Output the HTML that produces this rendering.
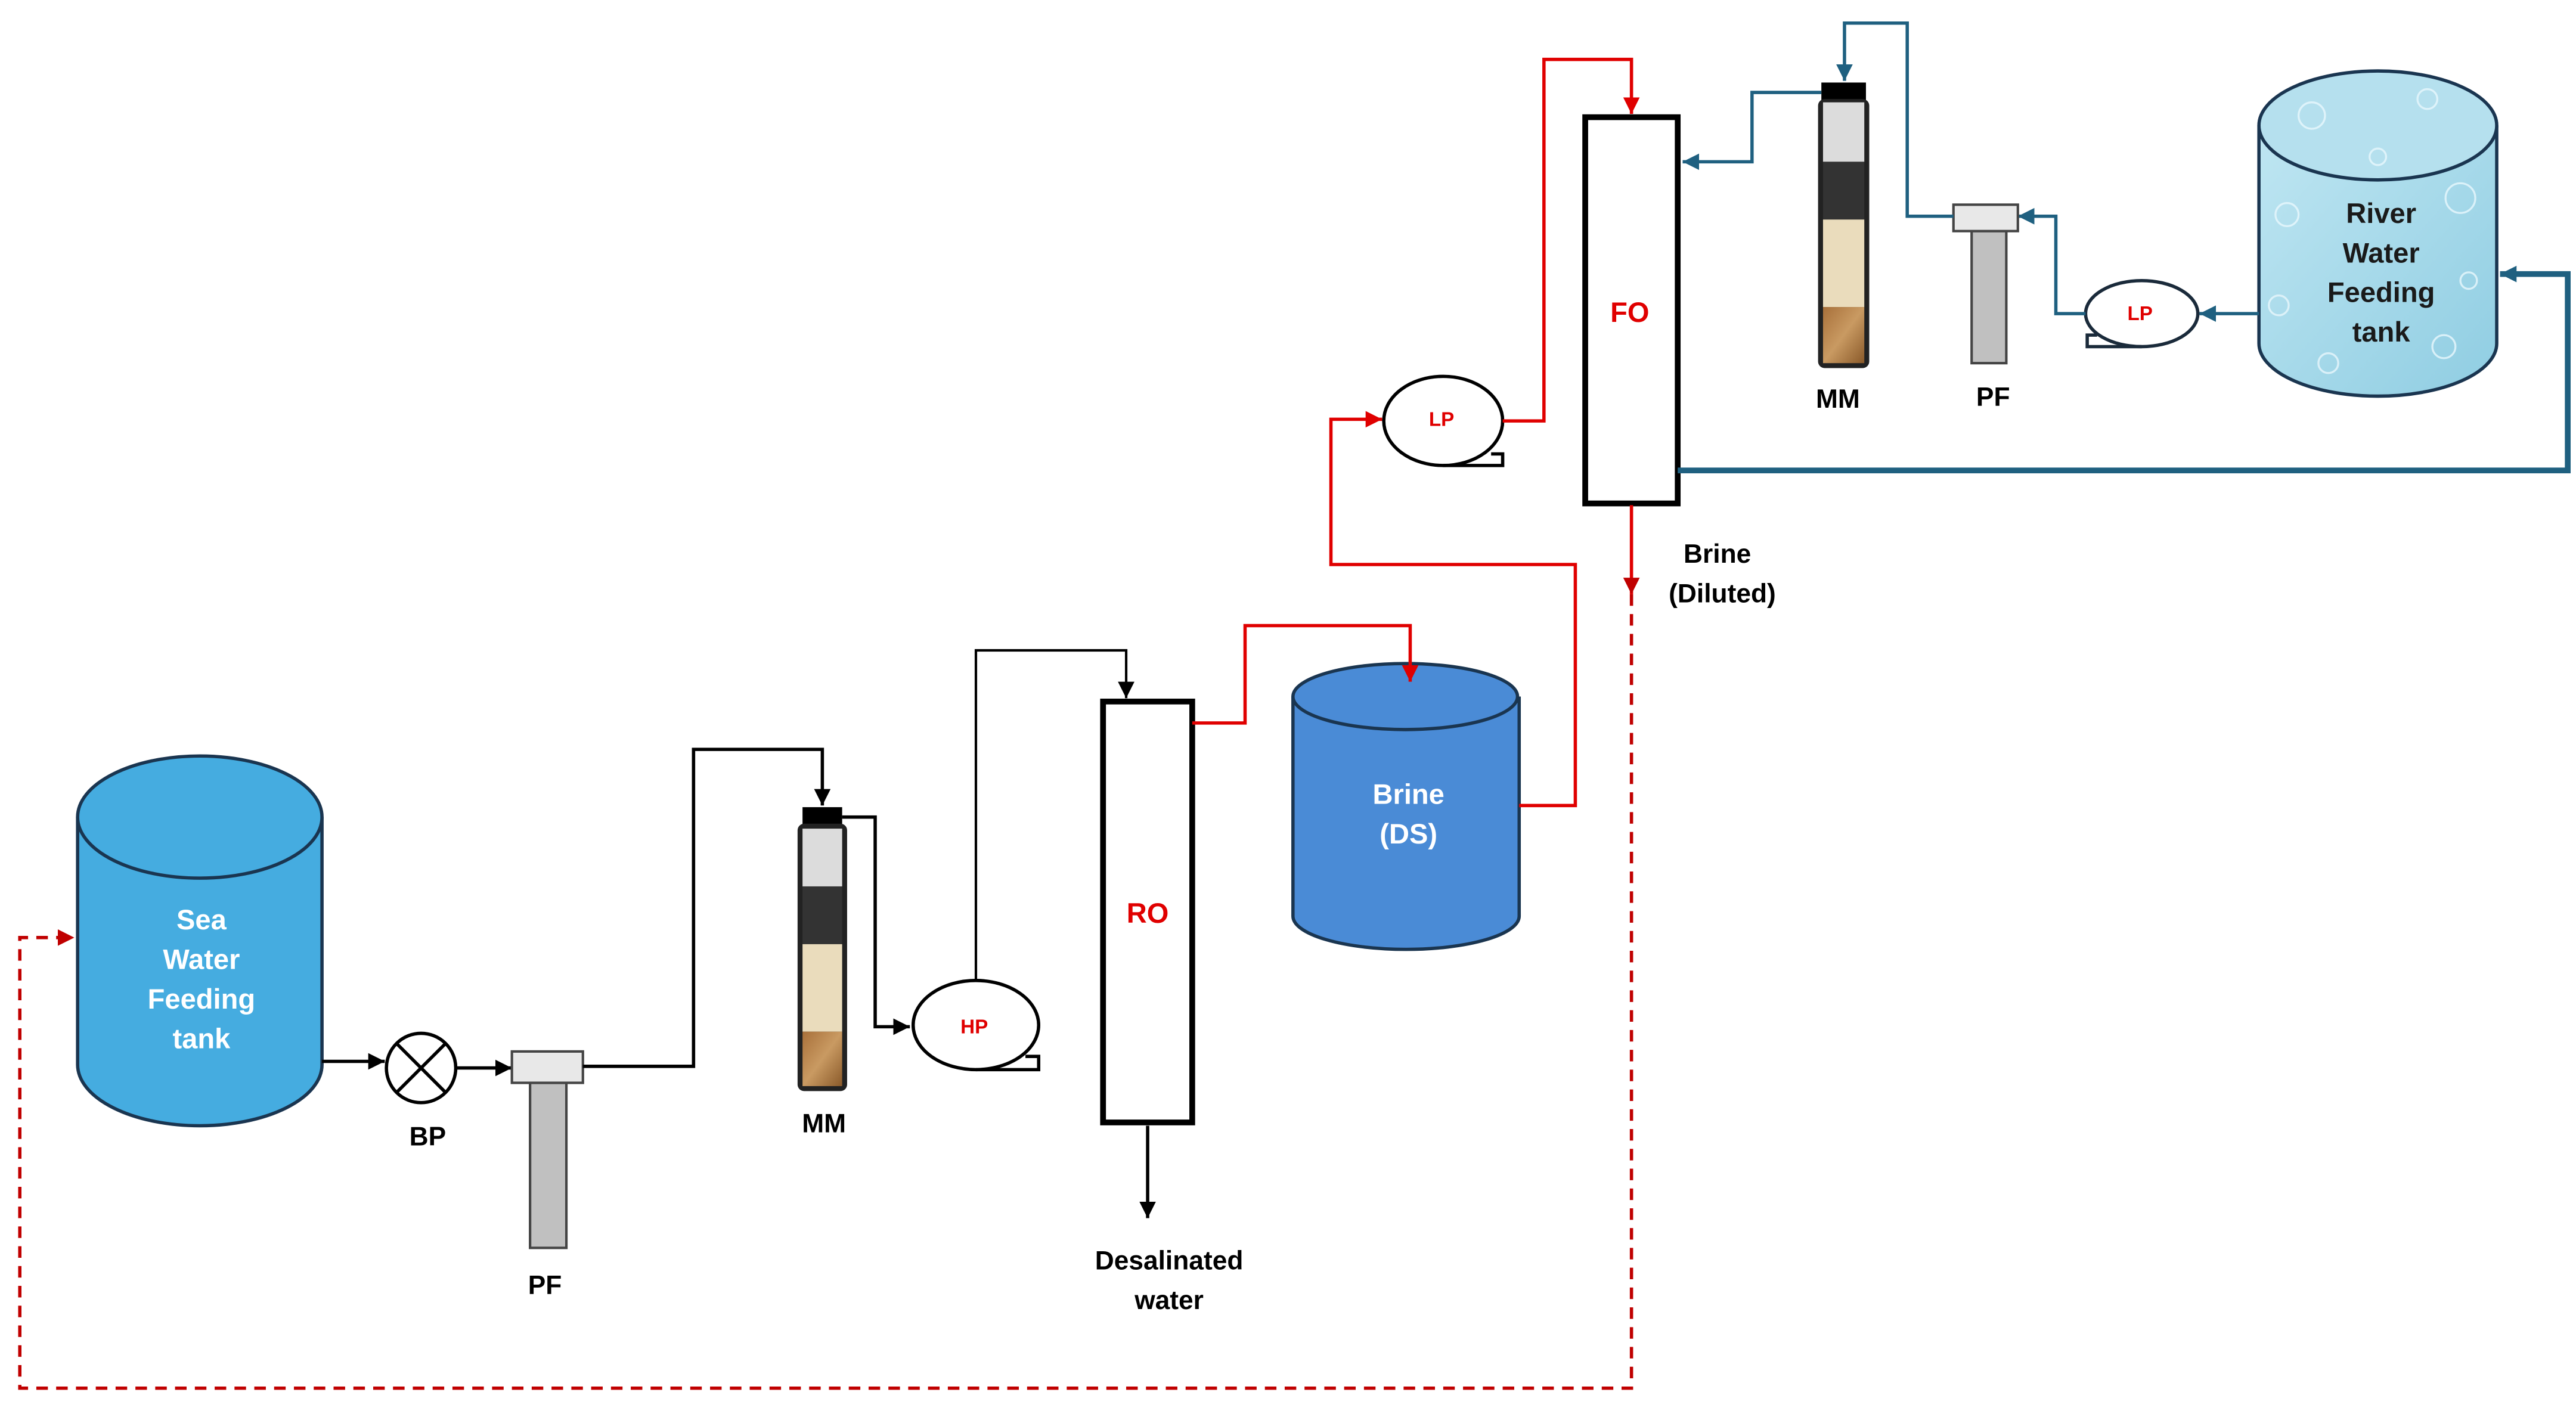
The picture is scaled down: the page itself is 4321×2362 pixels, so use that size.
<!DOCTYPE html>
<html><head><meta charset="utf-8"><style>
html,body{margin:0;padding:0;background:#fff;}
svg{display:block;}
text{font-family:"Liberation Sans",sans-serif;font-weight:bold;text-anchor:middle;}
</style></head><body>
<svg width="4321" height="2362" viewBox="0 0 1560 853" preserveAspectRatio="none" xmlns="http://www.w3.org/2000/svg">
<defs>
<marker id="ak" markerUnits="userSpaceOnUse" markerWidth="12" markerHeight="12" refX="10" refY="5" orient="auto"><path d="M0,0 L10,5 L0,10 z" fill="#000"/></marker>
<marker id="ar" markerUnits="userSpaceOnUse" markerWidth="12" markerHeight="12" refX="10" refY="5" orient="auto"><path d="M0,0 L10,5 L0,10 z" fill="#e00000"/></marker>
<marker id="adr" markerUnits="userSpaceOnUse" markerWidth="12" markerHeight="12" refX="10" refY="5" orient="auto"><path d="M0,0 L10,5 L0,10 z" fill="#c00000"/></marker>
<marker id="ab" markerUnits="userSpaceOnUse" markerWidth="12" markerHeight="12" refX="10" refY="5" orient="auto"><path d="M0,0 L10,5 L0,10 z" fill="#1f6080"/></marker>
<linearGradient id="riv" x1="0" y1="0" x2="1" y2="1"><stop offset="0" stop-color="#bfe6f2"/><stop offset="1" stop-color="#8fcde2"/></linearGradient>
<linearGradient id="sand" x1="0" y1="0" x2="1" y2="1"><stop offset="0" stop-color="#a8703a"/><stop offset="0.5" stop-color="#c99a62"/><stop offset="1" stop-color="#8a5a2a"/></linearGradient>
</defs>

<polyline points="988,360 988,841 12,841 12,568 45,568" fill="none" stroke="#c00000" stroke-width="2" stroke-dasharray="7,5" marker-end="url(#adr)"/>

<path d="M47,495 L47,645 A74,37 0 0 0 195,645 L195,495" fill="#45ace0" stroke="#1a3550" stroke-width="2"/>
<ellipse cx="121" cy="495" rx="74" ry="37" fill="#45ace0" stroke="#1a3550" stroke-width="2"/>
<g fill="#fff" font-size="17"><text x="122" y="563">Sea</text><text x="122" y="587">Water</text><text x="122" y="611">Feeding</text><text x="122" y="635">tank</text></g>

<line x1="195" y1="643" x2="233" y2="643" stroke="#000" stroke-width="2" marker-end="url(#ak)"/>
<circle cx="255" cy="647" r="21" fill="#fff" stroke="#000" stroke-width="2"/>
<line x1="240" y1="632" x2="270" y2="662" stroke="#000" stroke-width="2"/><line x1="270" y1="632" x2="240" y2="662" stroke="#000" stroke-width="2"/>
<text x="259" y="694" font-size="16">BP</text>
<line x1="276" y1="647" x2="310" y2="647" stroke="#000" stroke-width="2" marker-end="url(#ak)"/>

<rect x="321" y="656" width="22" height="100" fill="#c0c0c0" stroke="#444" stroke-width="1.5"/>
<rect x="310" y="637" width="43" height="19" fill="#e8e8e8" stroke="#444" stroke-width="1.5"/>
<text x="330" y="784" font-size="16">PF</text>
<polyline points="353,646 420,646 420,454 498,454 498,488" fill="none" stroke="#000" stroke-width="2" marker-end="url(#ak)"/>

<rect x="486" y="489" width="24" height="11" fill="#000"/>
<rect x="483" y="499" width="30" height="162" rx="4" fill="#222"/>
<rect x="486" y="502" width="24" height="35" fill="#dcdcdc"/>
<rect x="486" y="537" width="24" height="35" fill="#333"/>
<rect x="486" y="572" width="24" height="53" fill="#eadcbc"/>
<rect x="486" y="625" width="24" height="33" fill="url(#sand)"/>
<text x="499" y="686" font-size="16">MM</text>
<polyline points="510,495 530,495 530,622 551,622" fill="none" stroke="#000" stroke-width="2" marker-end="url(#ak)"/>

<ellipse cx="591" cy="621" rx="38" ry="27" fill="#fff" stroke="#000" stroke-width="2"/>
<polyline points="591,648 629,648 629,640 621,640" fill="none" stroke="#000" stroke-width="2"/>
<text x="590" y="626" font-size="12" fill="#e00000">HP</text>
<polyline points="591,594 591,394 682,394 682,423" fill="none" stroke="#000" stroke-width="1.5" marker-end="url(#ak)"/>

<rect x="668" y="425" width="54" height="255" fill="#fff" stroke="#000" stroke-width="3.5"/>
<text x="695" y="559" font-size="17" fill="#e00000">RO</text>
<line x1="695" y1="682" x2="695" y2="738" stroke="#000" stroke-width="2" marker-end="url(#ak)"/>
<text x="708" y="769" font-size="16">Desalinated</text><text x="708" y="793" font-size="16">water</text>

<path d="M783,422 L783,555 A68,20 0 0 0 920,555 L920,422" fill="#4a8bd6" stroke="#1a3550" stroke-width="2"/>
<ellipse cx="851" cy="422" rx="68" ry="20" fill="#4a8bd6" stroke="#1a3550" stroke-width="2"/>
<text x="853" y="487" font-size="17" fill="#fff">Brine</text><text x="853" y="511" font-size="17" fill="#fff">(DS)</text>
<polyline points="722,438 754,438 754,379 854,379 854,413" fill="none" stroke="#e00000" stroke-width="2" marker-end="url(#ar)"/>
<polyline points="920,488 954,488 954,342 806,342 806,254 837,254" fill="none" stroke="#e00000" stroke-width="2" marker-end="url(#ar)"/>

<ellipse cx="874" cy="255" rx="36" ry="27" fill="#fff" stroke="#000" stroke-width="2"/>
<polyline points="874,282 910,282 910,275 903,275" fill="none" stroke="#000" stroke-width="2"/>
<text x="873" y="258" font-size="12" fill="#e00000">LP</text>
<polyline points="910,255 935,255 935,36 988,36 988,69" fill="none" stroke="#e00000" stroke-width="2" marker-end="url(#ar)"/>

<rect x="960" y="71" width="56" height="234" fill="#fff" stroke="#000" stroke-width="3.5"/>
<text x="987" y="195" font-size="17" fill="#e00000">FO</text>
<line x1="988" y1="306" x2="988" y2="360" stroke="#e00000" stroke-width="2" marker-end="url(#adr)"/>
<text x="1040" y="341" font-size="16">Brine</text><text x="1043" y="365" font-size="16">(Diluted)</text>

<polyline points="1016,285 1555,285 1555,166 1514,166" fill="none" stroke="#1f6080" stroke-width="3.5" marker-end="url(#ab)"/>

<path d="M1368,76 L1368,208 A72,32 0 0 0 1512,208 L1512,76" fill="url(#riv)" stroke="#1a3550" stroke-width="2"/>
<ellipse cx="1440" cy="76" rx="72" ry="33" fill="#b5e0ee" stroke="#1a3550" stroke-width="2"/>
<g fill="none" stroke="#e8f7fc" stroke-width="1.2" opacity="0.8">
<circle cx="1400" cy="70" r="8"/><circle cx="1470" cy="60" r="6"/><circle cx="1385" cy="130" r="7"/><circle cx="1490" cy="120" r="9"/><circle cx="1410" cy="220" r="6"/><circle cx="1480" cy="210" r="7"/><circle cx="1440" cy="95" r="5"/><circle cx="1495" cy="170" r="5"/><circle cx="1380" cy="185" r="6"/></g>
<g fill="#1a1a1a" font-size="17"><text x="1442" y="135">River</text><text x="1442" y="159">Water</text><text x="1442" y="183">Feeding</text><text x="1442" y="207">tank</text></g>
<line x1="1368" y1="190" x2="1332" y2="190" stroke="#1f6080" stroke-width="2" marker-end="url(#ab)"/>

<ellipse cx="1297" cy="190" rx="34" ry="20" fill="#fff" stroke="#1a2a3a" stroke-width="2"/>
<polyline points="1297,210 1264,210 1264,203 1270,203" fill="none" stroke="#1a2a3a" stroke-width="2"/>
<text x="1296" y="194" font-size="12" fill="#e00000">LP</text>
<polyline points="1263,190 1245,190 1245,131 1222,131" fill="none" stroke="#1f6080" stroke-width="2" marker-end="url(#ab)"/>

<rect x="1194" y="140" width="21" height="80" fill="#c0c0c0" stroke="#444" stroke-width="1.5"/>
<rect x="1183" y="124" width="39" height="16" fill="#e8e8e8" stroke="#444" stroke-width="1.5"/>
<text x="1207" y="246" font-size="16">PF</text>
<polyline points="1183,131 1155,131 1155,14 1117,14 1117,49" fill="none" stroke="#1f6080" stroke-width="2" marker-end="url(#ab)"/>

<rect x="1103" y="50" width="27" height="11" fill="#000"/>
<rect x="1101" y="60" width="31" height="163" rx="4" fill="#222"/>
<rect x="1104" y="62" width="25" height="36" fill="#dcdcdc"/>
<rect x="1104" y="98" width="25" height="35" fill="#333"/>
<rect x="1104" y="133" width="25" height="53" fill="#eadcbc"/>
<rect x="1104" y="186" width="25" height="34" fill="url(#sand)"/>
<text x="1113" y="247" font-size="16">MM</text>
<polyline points="1103,56 1061,56 1061,98 1019,98" fill="none" stroke="#1f6080" stroke-width="2" marker-end="url(#ab)"/>
</svg>
</body></html>
